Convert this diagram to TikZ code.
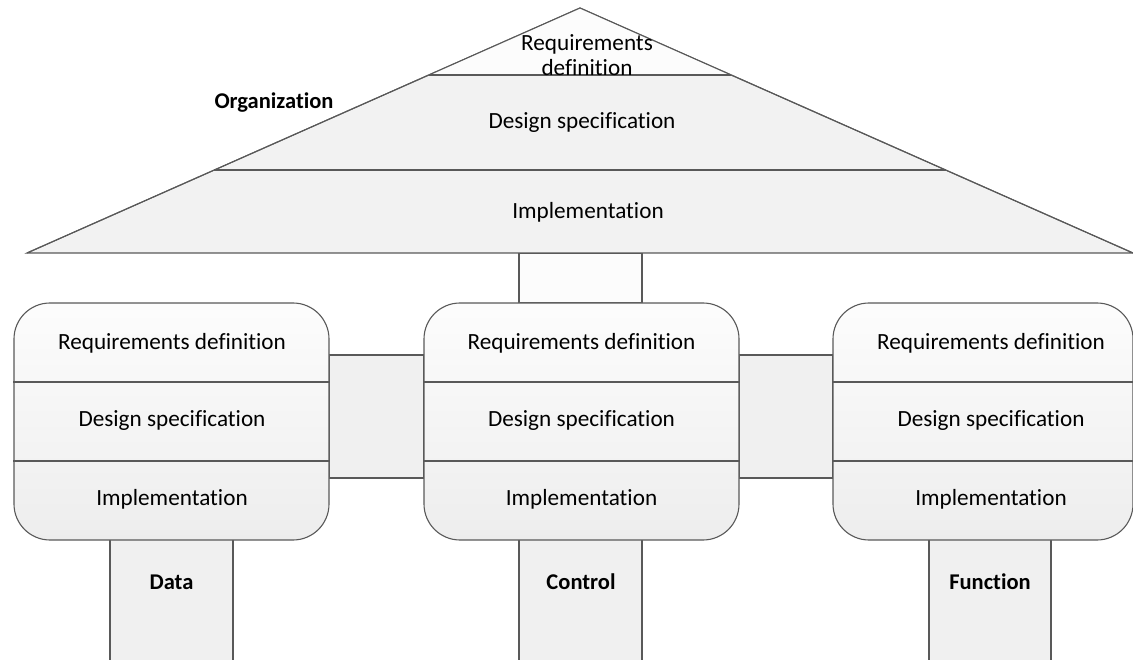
\documentclass[tikz,border=0pt]{standalone}
\usepackage{fontspec}
\setmainfont{Carlito}[Ligatures={NoCommon}]
\usetikzlibrary{positioning,calc}

\begin{document}
\begin{tikzpicture}[x=1pt,y=-1pt,
    part/.style={draw=black!65,line width=1.1pt,fill=black!6},
    pillar/.style={draw=black!65,line width=1.1pt,minimum height=237pt,inner sep=0pt,rounded corners=36pt,top color=black!1,bottom color=black!7},
    label/.style={font=\fontsize{23.2}{27}\selectfont,align=center},
    tag/.style={font=\fontsize{22.5}{26}\selectfont\bfseries}]
  \useasboundingbox (0,0) rectangle (1133,660);
  % legs and links behind the columns
  \fill[black!6] (110,540) rectangle (233,660);
  \draw[black!65,line width=1.1pt] (110,540) -- (110,660) (233,540) -- (233,660);
  \fill[black!6] (519,540) rectangle (642,660);
  \draw[black!65,line width=1.1pt] (519,540) -- (519,660) (642,540) -- (642,660);
  \fill[black!6] (929,540) rectangle (1051,660);
  \draw[black!65,line width=1.1pt] (929,540) -- (929,660) (1051,540) -- (1051,660);
  \draw[part,fill=black!1] (519,253) rectangle (642,303);
  \draw[part] (329,355) rectangle (424,478);
  \draw[part] (739,355) rectangle (833,478);
  % roof
  \coordinate (top) at (580,8);
  \coordinate (eaveL) at (27,253);
  \coordinate (eaveR) at (1133,253);
  \filldraw[part,fill=black!5] (top) -- (eaveL) -- (eaveR) -- cycle;
  \fill[black!1] (top) -- ($(top)!0.2735!(eaveL)$) -- ($(top)!0.2735!(eaveR)$) -- cycle;
  \draw[black!65,line width=1.1pt] (top) -- (eaveL) (top) -- (eaveR);
  \draw[black!65,line width=1.1pt] ($(top)!0.2735!(eaveL)$) -- ($(top)!0.2735!(eaveR)$);
  \draw[black!65,line width=1.1pt] ($(top)!0.6612!(eaveL)$) -- ($(top)!0.6612!(eaveR)$);
  \node[label] (roofreq) at (587,55) {Requirements\\[-2pt]definition};
  \node[label] (roofdes) at (582,123) {Design specification};
  \node[label] (roofimp) at (588,212) {Implementation};
  \node[tag] (org) at (274,103) {Organization};
  % columns
  \node[pillar,minimum width=315pt] (databox) at (171.5,421.5) {};
  \node[pillar,minimum width=315pt] (ctrlbox) at (581.5,421.5) {};
  \node[pillar,minimum width=300pt] (funcbox) at (983,421.5) {};
  \foreach \b in {databox,ctrlbox,funcbox}{
    \draw[black!65,line width=1.1pt] ($(\b.west)+(0,-39.5)$) -- ($(\b.east)+(0,-39.5)$);
    \draw[black!65,line width=1.1pt] ($(\b.west)+(0,39.5)$) -- ($(\b.east)+(0,39.5)$);
  }
  \node[label] (datareq) at (172,343) {Requirements definition};
  \node[label] (datades) at (172,421) {Design specification};
  \node[label] (dataimp) at (172,499) {Implementation};
  \node[label] (ctrlreq) at (581.5,343) {Requirements definition};
  \node[label] (ctrldes) at (581.5,421) {Design specification};
  \node[label] (ctrlimp) at (581.5,499) {Implementation};
  \node[label] (funcreq) at (991,343) {Requirements definition};
  \node[label] (funcdes) at (991,421) {Design specification};
  \node[label] (funcimp) at (991,499) {Implementation};
  % leg labels
  \node[tag] (data) at (171.5,582) {Data};
  \node[tag] (ctrl) at (581,582) {Control};
  \node[tag] (func) at (990,582) {Function};
\end{tikzpicture}
\end{document}
